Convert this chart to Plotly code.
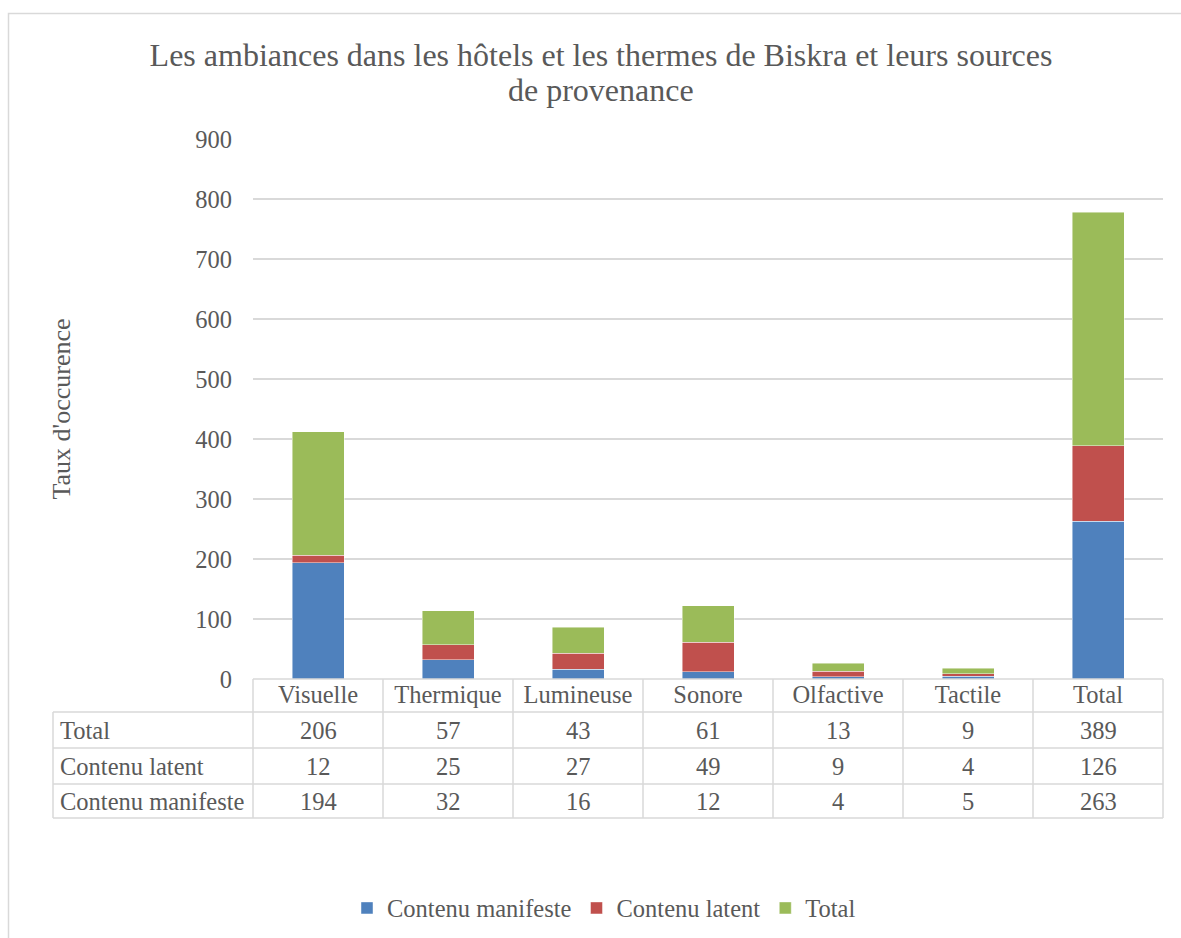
import plotly.graph_objects as go

categories = ["Visuelle", "Thermique", "Lumineuse", "Sonore", "Olfactive", "Tactile", "Total"]
manifeste = [194, 32, 16, 12, 4, 5, 263]
latent = [12, 25, 27, 49, 9, 4, 126]
total = [206, 57, 43, 61, 13, 9, 389]
y_ticks = [0, 100, 200, 300, 400, 500, 600, 700, 800, 900]

series = [
    ("Contenu manifeste", manifeste, "#4F81BD"),
    ("Contenu latent", latent, "#C0504D"),
    ("Total", total, "#9BBB59"),
]

FONT = "Liberation Serif, Times New Roman, serif"
TXT = "#595959"
GRID = "#D9D9D9"
FS = 24.5

W, H = 1181, 938
L, R, T, B = 253, 18, 139, 259
PW, PH = W - L - R, H - T - B


def px_x(p):
    return (p - L) / PW


def px_y(p):
    return (H - B - p) / PH


fig = go.Figure()
for name, vals, color in series:
    fig.add_trace(go.Bar(
        x=categories, y=vals, name=name,
        marker=dict(color=color, line=dict(color="rgba(255,255,255,0.6)", width=0.75)),
    ))

shapes = []
annotations = []

# outer chart frame
shapes.append(dict(type="rect", xref="paper", yref="paper",
                   x0=px_x(8.5), x1=px_x(1250), y0=px_y(13.5), y1=px_y(1000),
                   line=dict(color=GRID, width=1.5), fillcolor="rgba(0,0,0,0)", layer="below"))

# data table below the axis
n = len(categories)
row_edges_px = [679, 712, 748, 784, 818]
label_left_px = 53
for k in range(n + 1):
    shapes.append(dict(type="line", xref="paper", yref="paper",
                       x0=k / n, x1=k / n, y0=px_y(row_edges_px[0]), y1=px_y(row_edges_px[-1]),
                       line=dict(color=GRID, width=1.5)))
shapes.append(dict(type="line", xref="paper", yref="paper",
                   x0=px_x(label_left_px), x1=px_x(label_left_px),
                   y0=px_y(row_edges_px[1]), y1=px_y(row_edges_px[-1]),
                   line=dict(color=GRID, width=1.5)))
for i, py in enumerate(row_edges_px):
    x0 = 0 if i == 0 else px_x(label_left_px)
    shapes.append(dict(type="line", xref="paper", yref="paper",
                       x0=x0, x1=1, y0=px_y(py), y1=px_y(py),
                       line=dict(color=GRID, width=1.5)))

rows = [("Total", total), ("Contenu latent", latent), ("Contenu manifeste", manifeste)]
for r, (label, vals) in enumerate(rows):
    yc = px_y((row_edges_px[r + 1] + row_edges_px[r + 2]) / 2)
    annotations.append(dict(text=label, xref="paper", yref="paper",
                            x=px_x(label_left_px + 5), y=yc, xanchor="left", yanchor="middle",
                            showarrow=False, font=dict(family=FONT, size=FS, color=TXT)))
    for c, v in zip(categories, vals):
        annotations.append(dict(text=str(v), xref="x", yref="paper", x=c, y=yc,
                                xanchor="center", yanchor="middle", showarrow=False,
                                font=dict(family=FONT, size=FS, color=TXT)))

# second line of the chart title
annotations.append(dict(text="de provenance", xref="paper", yref="paper",
                        x=px_x(601), y=px_y(90), xanchor="center", yanchor="middle",
                        showarrow=False, font=dict(family=FONT, size=32, color=TXT)))

fig.update_layout(
    width=W, height=H,
    margin=dict(l=L, r=R, t=T, b=B, autoexpand=False),
    barmode="stack", bargap=0.6,
    paper_bgcolor="white", plot_bgcolor="white",
    font=dict(family=FONT, size=FS, color=TXT),
    title=dict(text="Les ambiances dans les hôtels et les thermes de Biskra et leurs sources",
               x=601 / W, xanchor="center", xref="container",
               y=1 - 55 / H, yanchor="middle", yref="container",
               font=dict(family=FONT, size=32, color=TXT)),
    xaxis=dict(showline=False, showgrid=False, ticks="", ticklabelstandoff=-2,
               tickfont=dict(family=FONT, size=FS, color=TXT)),
    yaxis=dict(range=[0, 900], tickvals=y_ticks, showgrid=True, gridcolor=GRID, gridwidth=1.5,
               zeroline=False, showline=False, ticks="", ticklabelstandoff=20,
               tickfont=dict(family=FONT, size=FS, color=TXT),
               title=dict(text="Taux d'occurence", standoff=117,
                          font=dict(family=FONT, size=26, color=TXT))),
    legend=dict(orientation="h", x=604 / W, xanchor="center", xref="container",
                y=px_y(908), yanchor="middle", traceorder="normal",
                font=dict(family=FONT, size=FS, color=TXT), itemwidth=30),
    shapes=shapes, annotations=annotations,
)

fig.write_html("out.html")
